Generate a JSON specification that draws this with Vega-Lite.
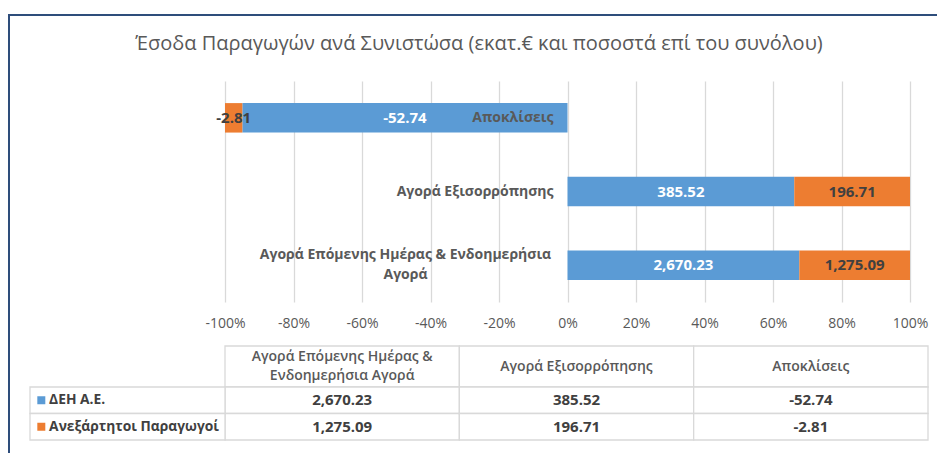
{
  "$schema": "https://vega.github.io/schema/vega-lite/v6.json",
  "width": 940,
  "height": 450,
  "autosize": {"type": "none"},
  "padding": {"left": 9, "top": 15, "right": 0, "bottom": 0},
  "background": "white",
  "config": {
    "view": {"stroke": "#2E4D7B", "strokeWidth": 2},
    "font": "Open Sans",
    "locale": {"number": {"decimal": ".", "thousands": ",", "grouping": [3], "currency": ["€", ""], "minus": "-"}}
  },
  "title": {
    "text": "Έσοδα Παραγωγών ανά Συνιστώσα (εκατ.€ και ποσοστά επί του συνόλου)",
    "anchor": "middle",
    "frame": "group",
    "offset": -39,
    "font": "Open Sans",
    "fontSize": 20,
    "fontWeight": "normal",
    "color": "#595959"
  },
  "datasets": {
    "main": [
      {"cat": "Αγορά Επόμενης Ημέρας & Ενδοημερήσια Αγορά", "series": "ΔΕΗ Α.Ε.", "value": 2670.23, "share": 0.6768},
      {"cat": "Αγορά Επόμενης Ημέρας & Ενδοημερήσια Αγορά", "series": "Ανεξάρτητοι Παραγωγοί", "value": 1275.09, "share": 0.3232},
      {"cat": "Αγορά Εξισορρόπησης", "series": "ΔΕΗ Α.Ε.", "value": 385.52, "share": 0.6621},
      {"cat": "Αγορά Εξισορρόπησης", "series": "Ανεξάρτητοι Παραγωγοί", "value": 196.71, "share": 0.3379},
      {"cat": "Αποκλίσεις", "series": "ΔΕΗ Α.Ε.", "value": -52.74, "share": -0.9494},
      {"cat": "Αποκλίσεις", "series": "Ανεξάρτητοι Παραγωγοί", "value": -2.81, "share": -0.0506}
    ],
    "cats": [
      {"cat": "Αγορά Επόμενης Ημέρας & Ενδοημερήσια Αγορά", "header": "Αγορά Επόμενης Ημέρας &\nΕνδοημερήσια Αγορά", "label": "Αγορά Επόμενης Ημέρας & Ενδοημερήσια\nΑγορά", "lines": 2},
      {"cat": "Αγορά Εξισορρόπησης", "header": "Αγορά Εξισορρόπησης", "label": "Αγορά Εξισορρόπησης", "lines": 1},
      {"cat": "Αποκλίσεις", "header": "Αποκλίσεις", "label": "Αποκλίσεις", "lines": 1}
    ],
    "series": [
      {"series": "ΔΕΗ Α.Ε."},
      {"series": "Ανεξάρτητοι Παραγωγοί"}
    ]
  },
  "resolve": {"scale": {"x": "independent", "y": "independent", "color": "independent"}},
  "layer": [
    {
      "layer": [
        {
          "data": {"name": "main"},
          "transform": [
            {"stack": "share", "groupby": ["cat"], "sort": [{"field": "series", "order": "descending"}], "as": ["s0", "s1"]}
          ],
          "mark": {"type": "bar"},
          "encoding": {
            "x": {
              "field": "s0", "type": "quantitative",
              "scale": {"domain": [-1, 1], "range": [216, 901], "nice": false, "zero": false},
              "axis": {
                "orient": "top", "offset": -318, "title": null,
                "values": [-1, -0.8, -0.6, -0.4, -0.2, 0, 0.2, 0.4, 0.6, 0.8, 1],
                "format": ".0%", "domain": false, "ticks": false, "tickSize": 0,
                "labelPadding": 3, "labelFlush": false, "labelOverlap": false,
                "grid": true, "gridColor": "#D9D9D9", "gridWidth": 1.3,
                "labelColor": "#595959", "labelFont": "Open Sans", "labelFontSize": 14
              }
            },
            "x2": {"field": "s1"},
            "y": {
              "field": "cat", "type": "nominal",
              "scale": {"domain": ["Αποκλίσεις", "Αγορά Εξισορρόπησης", "Αγορά Επόμενης Ημέρας & Ενδοημερήσια Αγορά"], "range": [66, 287], "paddingInner": 0.6, "paddingOuter": 0.3},
              "axis": null
            },
            "color": {
              "field": "series", "type": "nominal",
              "scale": {"domain": ["ΔΕΗ Α.Ε.", "Ανεξάρτητοι Παραγωγοί"], "range": ["#5B9BD5", "#ED7D31"]},
              "legend": null
            }
          }
        },
        {
          "data": {"name": "main"},
          "transform": [
            {"stack": "share", "groupby": ["cat"], "sort": [{"field": "series", "order": "descending"}], "as": ["s0", "s1"]},
            {"fold": ["s0", "s1"], "as": ["edge", "pos"]},
            {"aggregate": [{"op": "mean", "field": "pos", "as": "mid"}], "groupby": ["cat", "series", "value"]}
          ],
          "mark": {"type": "text", "font": "Open Sans", "fontWeight": "bold", "fontSize": 15, "baseline": "middle", "align": "center"},
          "encoding": {
            "x": {"field": "mid", "type": "quantitative"},
            "y": {"field": "cat", "type": "nominal"},
            "text": {"field": "value", "type": "quantitative", "format": ",.2f"},
            "color": {"condition": {"test": "datum.series === 'ΔΕΗ Α.Ε.'", "value": "#FFFFFF"}, "value": "#404040"}
          }
        },
        {
          "data": {"name": "cats"},
          "transform": [{"filter": "datum.lines === 1"}],
          "mark": {"type": "text", "font": "Open Sans", "fontWeight": "bold", "fontSize": 14, "baseline": "middle", "align": "right", "dx": -14, "color": "#595959"},
          "encoding": {
            "x": {"datum": 0, "type": "quantitative"},
            "y": {"field": "cat", "type": "nominal"},
            "text": {"field": "label"}
          }
        },
        {
          "data": {"name": "cats"},
          "transform": [{"filter": "datum.lines === 2"}],
          "mark": {"type": "text", "font": "Open Sans", "fontWeight": "bold", "fontSize": 14, "baseline": "middle", "align": "center", "dx": -162, "dy": -10, "lineBreak": "\n", "lineHeight": 20, "color": "#595959"},
          "encoding": {
            "x": {"datum": 0, "type": "quantitative"},
            "y": {"field": "cat", "type": "nominal"},
            "text": {"field": "label"}
          }
        }
      ]
    },
    {
      "data": {"name": "cats"},
      "layer": [
        {
          "mark": {"type": "rect", "fill": "white", "stroke": "#D9D9D9", "strokeWidth": 1.3},
          "encoding": {
            "x": {"field": "cat", "type": "nominal", "scale": {"domain": ["Αγορά Επόμενης Ημέρας & Ενδοημερήσια Αγορά", "Αγορά Εξισορρόπησης", "Αποκλίσεις"], "range": [216, 919], "paddingInner": 0, "paddingOuter": 0}, "axis": null},
            "y": {"datum": "header", "type": "nominal", "scale": {"domain": ["header"], "range": [331, 372], "paddingInner": 0, "paddingOuter": 0}, "axis": null}
          }
        },
        {
          "transform": [{"filter": "datum.lines === 1"}],
          "mark": {"type": "text", "font": "Open Sans", "fontWeight": 600, "fontSize": 14, "baseline": "middle", "align": "center", "color": "#595959"},
          "encoding": {
            "x": {"field": "cat", "type": "nominal"},
            "y": {"datum": "header", "type": "nominal"},
            "text": {"field": "header"}
          }
        },
        {
          "transform": [{"filter": "datum.lines === 2"}],
          "mark": {"type": "text", "font": "Open Sans", "fontWeight": 600, "fontSize": 14, "baseline": "middle", "align": "center", "dy": -9.5, "lineBreak": "\n", "lineHeight": 19, "color": "#595959"},
          "encoding": {
            "x": {"field": "cat", "type": "nominal"},
            "y": {"datum": "header", "type": "nominal"},
            "text": {"field": "header"}
          }
        }
      ]
    },
    {
      "data": {"name": "main"},
      "layer": [
        {
          "mark": {"type": "rect", "fill": "white", "stroke": "#D9D9D9", "strokeWidth": 1.3},
          "encoding": {
            "x": {"field": "cat", "type": "nominal", "scale": {"domain": ["Αγορά Επόμενης Ημέρας & Ενδοημερήσια Αγορά", "Αγορά Εξισορρόπησης", "Αποκλίσεις"], "range": [216, 919], "paddingInner": 0, "paddingOuter": 0}, "axis": null},
            "y": {"field": "series", "type": "nominal", "scale": {"domain": ["ΔΕΗ Α.Ε.", "Ανεξάρτητοι Παραγωγοί"], "range": [372, 425], "paddingInner": 0, "paddingOuter": 0}, "axis": null}
          }
        },
        {
          "mark": {"type": "text", "font": "Open Sans", "fontWeight": "bold", "fontSize": 15, "baseline": "middle", "align": "center", "color": "#404040"},
          "encoding": {
            "x": {"field": "cat", "type": "nominal"},
            "y": {"field": "series", "type": "nominal"},
            "text": {"field": "value", "type": "quantitative", "format": ",.2f"}
          }
        }
      ]
    },
    {
      "data": {"name": "series"},
      "layer": [
        {
          "mark": {"type": "rect", "fill": "white", "stroke": "#D9D9D9", "strokeWidth": 1.3},
          "encoding": {
            "x": {"datum": "legend", "type": "nominal", "scale": {"domain": ["legend"], "range": [21, 216], "paddingInner": 0, "paddingOuter": 0}, "axis": null},
            "y": {"field": "series", "type": "nominal", "scale": {"domain": ["ΔΕΗ Α.Ε.", "Ανεξάρτητοι Παραγωγοί"], "range": [372, 425], "paddingInner": 0, "paddingOuter": 0}, "axis": null}
          }
        },
        {
          "mark": {"type": "square", "size": 64, "opacity": 1, "filled": true},
          "encoding": {
            "x": {"datum": "legend", "type": "nominal", "bandPosition": 0.058},
            "y": {"field": "series", "type": "nominal"},
            "color": {"field": "series", "type": "nominal", "scale": {"domain": ["ΔΕΗ Α.Ε.", "Ανεξάρτητοι Παραγωγοί"], "range": ["#5B9BD5", "#ED7D31"]}, "legend": null}
          }
        },
        {
          "mark": {"type": "text", "font": "Open Sans", "fontWeight": "bold", "fontSize": 13.8, "baseline": "middle", "align": "left", "color": "#404040"},
          "encoding": {
            "x": {"datum": "legend", "type": "nominal", "bandPosition": 0.098},
            "y": {"field": "series", "type": "nominal"},
            "text": {"field": "series"}
          }
        }
      ]
    }
  ]
}
